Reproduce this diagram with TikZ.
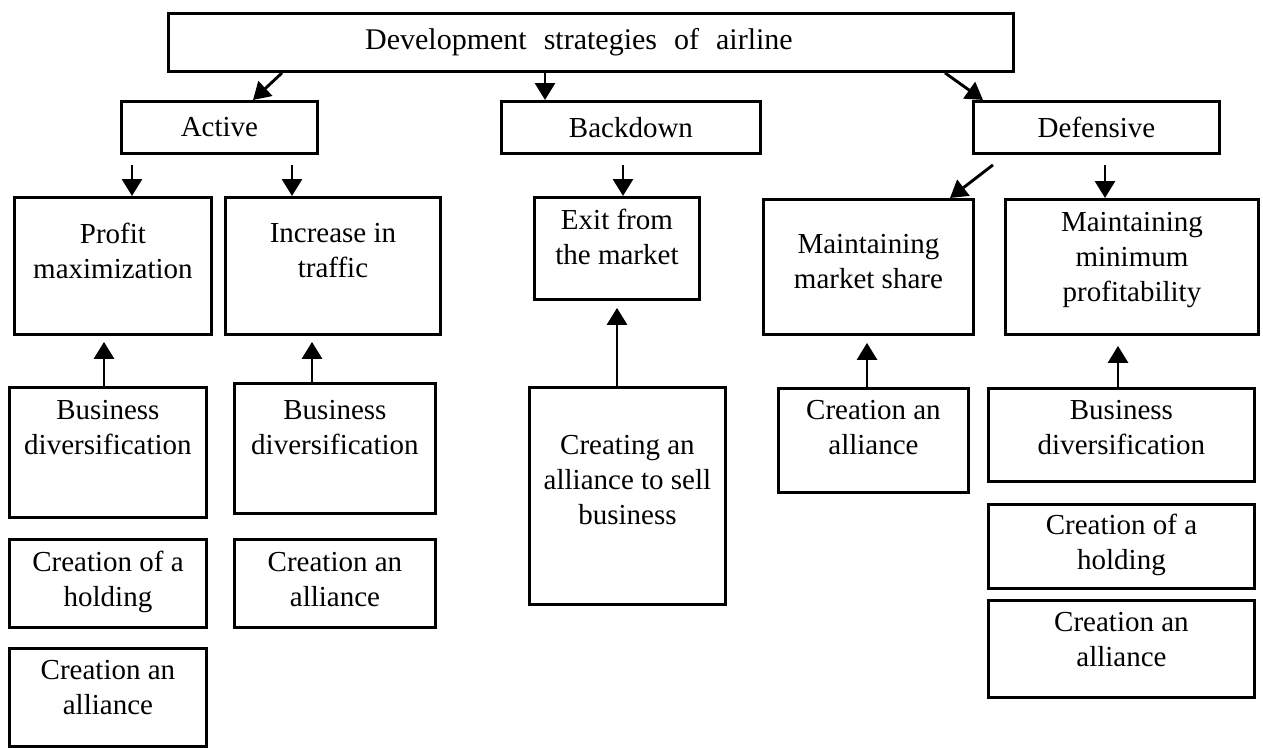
\documentclass[tikz,border=0pt]{standalone}
\usepackage{fontspec}
\setmainfont{Liberation Serif}
\usetikzlibrary{arrows.meta, positioning}

\begin{document}
\begin{tikzpicture}[x=1pt, y=-1pt,
    font=\fontsize{29}{35}\selectfont,
    box/.style={draw, line width=2.9pt, inner sep=0pt, anchor=north west},
    head/.style n args={2}{box, minimum width=#1, minimum height=#2},
    cell/.style n args={3}{box,
        execute at begin node={\begin{minipage}[t][#2][t]{#1}\centering\rule{0pt}{#3}},
        execute at end node={\end{minipage}}},
    arr/.style={-{Triangle[width=20pt, length=17pt]}, line width=2.9pt}]
    \useasboundingbox (0,0) rectangle (1263,747);

    % Top node
    \node[head={845pt}{58pt}] (title) at (167,12)
        {\fontsize{30}{35}\selectfont\spaceskip=17pt Development strategies of airline\hspace*{24pt}};
    % Strategy nodes
    \node[head={196pt}{52pt}] (active) at (120,100) {Active};
    \node[head={259pt}{52pt}] (backdown) at (500,100) {Backdown};
    \node[head={246pt}{52pt}] (defensive) at (972,100) {Defensive};

    % Goal nodes
    \node[cell={197pt}{137pt}{46pt}] (profit) at (13,196) {Profit\\maximization};
    \node[cell={215pt}{137pt}{45pt}] (traffic) at (224,196) {Increase in\\traffic};
    \node[cell={165pt}{102pt}{32pt}] (exit) at (533,196) {Exit from\\the market};
    \node[cell={210pt}{135pt}{54pt}] (share) at (762,198) {Maintaining\\market share};
    \node[cell={253pt}{135pt}{32pt}] (minprof) at (1004,198) {Maintaining\\minimum\\profitability};

    % Tool nodes
    \node[cell={197pt}{130pt}{32pt}] (divA) at (8,386) {Business\\diversification};
    \node[cell={197pt}{88pt}{32pt}] (holdA) at (8,538) {Creation of a\\holding};
    \node[cell={197pt}{98pt}{31pt}] (allyA) at (8,647) {Creation an\\alliance};
    \node[cell={201pt}{130pt}{36pt}] (divB) at (233,382) {Business\\diversification};
    \node[cell={201pt}{88pt}{32pt}] (allyB) at (233,538) {Creation an\\alliance};
    \node[cell={196pt}{217pt}{67pt}] (sell) at (528,386) {Creating an\\alliance to sell\\business};
    \node[cell={190pt}{104pt}{31pt}] (allyC) at (777,387) {Creation an\\alliance};
    \node[cell={266pt}{93pt}{31pt}] (divD) at (987,387) {Business\\diversification};
    \node[cell={266pt}{84pt}{30pt}] (holdD) at (987,503) {Creation of a\\holding};
    \node[cell={266pt}{97pt}{31pt}] (allyD) at (987,599) {Creation an\\alliance};

    % Edges from the top
    \draw[arr] ([xshift=115pt]title.south west) -- ([xshift=133pt]active.north west);
    \draw[arr] ([xshift=45pt]backdown.north west |- title.south) -- ([xshift=45pt]backdown.north west);
    \draw[arr] ([xshift=778pt]title.south west) -- ([xshift=11pt]defensive.north west);

    % Edges to the goals
    \draw[arr] ([xshift=12pt,yshift=-10pt]active.south west) -- ([xshift=12pt]active.south west |- profit.north);
    \draw[arr] ([xshift=172pt,yshift=-10pt]active.south west) -- ([xshift=172pt]active.south west |- traffic.north);
    \draw[arr] ([xshift=123pt,yshift=-10pt]backdown.south west) -- ([xshift=123pt]backdown.south west |- exit.north);
    \draw[arr] ([xshift=21pt,yshift=-10pt]defensive.south west) -- ([xshift=188pt]share.north west);
    \draw[arr] ([xshift=133pt,yshift=-10pt]defensive.south west) -- ([xshift=133pt]defensive.south west |- minprof.north);

    % Edges from the tools
    \draw[arr] ([xshift=96pt]divA.north west) -- ([xshift=96pt,yshift=-6pt]divA.north west |- profit.south);
    \draw[arr] ([xshift=79pt]divB.north west) -- ([xshift=79pt,yshift=-6pt]divB.north west |- traffic.south);
    \draw[arr] ([xshift=89pt]sell.north west) -- ([xshift=89pt,yshift=-7pt]sell.north west |- exit.south);
    \draw[arr] ([xshift=90pt]allyC.north west) -- ([xshift=90pt,yshift=-7pt]allyC.north west |- share.south);
    \draw[arr] ([xshift=131pt]divD.north west) -- ([xshift=131pt,yshift=-10pt]divD.north west |- minprof.south);
\end{tikzpicture}
\end{document}
